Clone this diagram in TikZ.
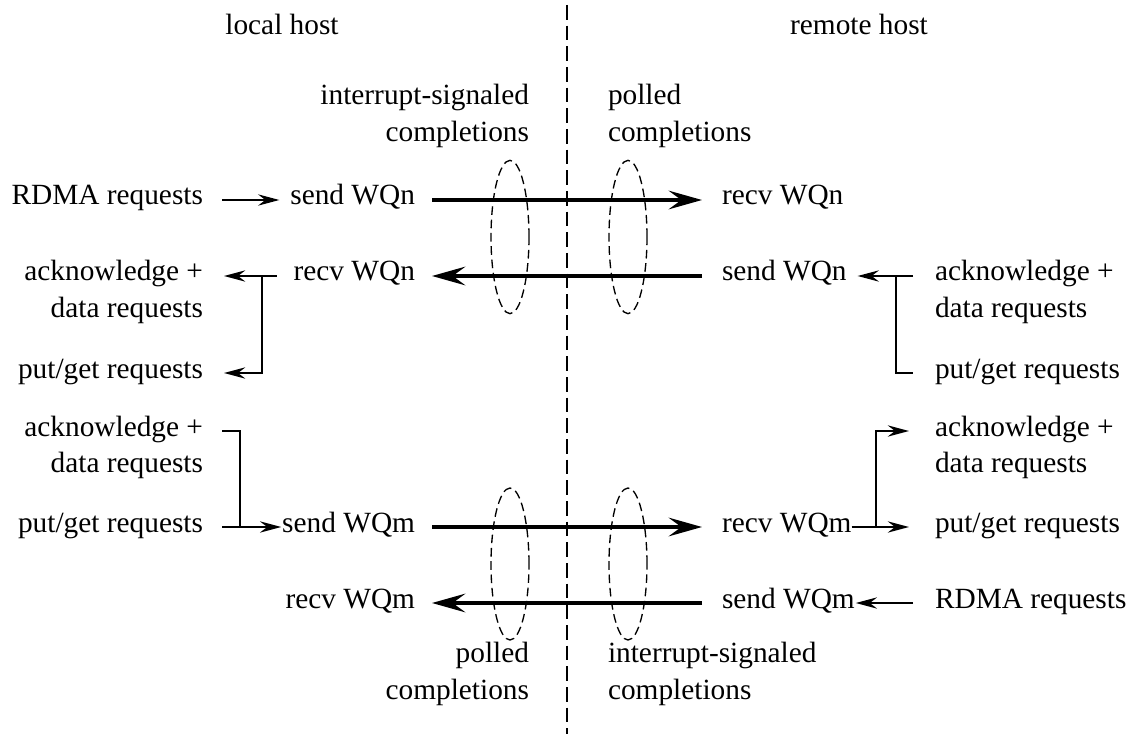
\documentclass[tikz,border=0pt]{standalone}
\usepackage{fontspec}
\setmainfont{Liberation Serif}
\usetikzlibrary{arrows.meta}
\begin{document}
\begin{tikzpicture}[x=0.75pt,y=-0.75pt,
  txt/.style={inner sep=0pt, outer sep=0pt,
    font=\fontsize{22}{26}\selectfont, text height=13.5pt, text depth=6pt},
  lefttxt/.style={txt, anchor=east},
  righttxt/.style={txt, anchor=west},
  link/.style={line width=1.2pt},
  arr/.style={link, -{Stealth[length=16pt,width=8.5pt,inset=5.5pt]}},
  bus/.style={line width=2.8pt, -{Stealth[length=25pt,width=14pt,inset=9.5pt]}},
  divider/.style={line width=1.1pt, dash pattern=on 11pt off 4.5pt},
  cq/.style={line width=1pt, dash pattern=on 6.5pt off 3.5pt}]
\useasboundingbox (0,0) rectangle (1135,734);

% host boundary
\coordinate (dtop) at (567,5);
\coordinate (dbot) at (567,734);
\draw[divider] (dtop) -- (dbot);

% headings
\node[txt] (local) at (282,30) {local host};
\node[txt] (remote) at (859,30) {remote host};

% completion labels, top
\node[lefttxt] (isigT1) at (529,100) {interrupt-signaled};
\node[lefttxt] (isigT2) at (529,137) {completions};
\node[righttxt] (polT1) at (608,100) {polled};
\node[righttxt] (polT2) at (608,137) {completions};

% completion labels, bottom
\node[lefttxt] (polB1) at (529,657) {polled};
\node[lefttxt] (polB2) at (529,694) {completions};
\node[righttxt] (isigB1) at (608,657) {interrupt-signaled};
\node[righttxt] (isigB2) at (608,694) {completions};

% local request column
\node[lefttxt] (rdmaL) at (203,200) {RDMA requests};
\node[lefttxt] (ackL)  at (203,276) {acknowledge +};
\node[lefttxt] (datL)  at (203,312) {data requests};
\node[lefttxt] (putL)  at (203,373) {put/get requests};
\node[lefttxt] (ackL2) at (203,431) {acknowledge +};
\node[lefttxt] (datL2) at (203,467) {data requests};
\node[lefttxt] (putL2) at (203,527) {put/get requests};

% local work queues
\node[lefttxt] (sendn) at (415,200) {send WQn};
\node[lefttxt] (recvn) at (415,276) {recv WQn};
\node[lefttxt] (sendm) at (415,527) {send WQm};
\node[lefttxt] (recvm) at (415,603) {recv WQm};

% remote work queues
\node[righttxt] (recvnR) at (722,200) {recv WQn};
\node[righttxt] (sendnR) at (722,276) {send WQn};
\node[righttxt] (recvmR) at (722,527) {recv WQm};
\node[righttxt] (sendmR) at (722,603) {send WQm};

% remote request column
\node[righttxt] (ackR)  at (935,276) {acknowledge +};
\node[righttxt] (datR)  at (935,312) {data requests};
\node[righttxt] (putR)  at (935,373) {put/get requests};
\node[righttxt] (ackR2) at (935,431) {acknowledge +};
\node[righttxt] (datR2) at (935,467) {data requests};
\node[righttxt] (putR2) at (935,527) {put/get requests};
\node[righttxt] (rdmaR) at (935,603) {RDMA requests};

% completion queue groupings
\draw[cq] (510,237) ellipse [x radius=14.25pt, y radius=57.5pt];
\draw[cq] (628,237) ellipse [x radius=14.25pt, y radius=57.5pt];
\draw[cq] (510,564) ellipse [x radius=14.25pt, y radius=57pt];
\draw[cq] (628,564) ellipse [x radius=14.25pt, y radius=57pt];

% wire traffic between the hosts
\draw[bus, shorten <=12.75pt, shorten >=15pt] (sendn.east) -- (recvnR.west);
\draw[bus, shorten <=15pt, shorten >=12.75pt] (sendnR.west) -- (recvn.east);
\draw[bus, shorten <=12.75pt, shorten >=15pt] (sendm.east) -- (recvmR.west);
\draw[bus, shorten <=15pt, shorten >=12.75pt] (sendmR.west) -- (recvm.east);

% local side
\coordinate (jL1) at (262,276);
\coordinate (jL2) at (240,527);
\draw[arr, shorten <=14.25pt, shorten >=8.25pt] (rdmaL.east) -- (sendn.west);
\draw[arr, shorten <=12.75pt, shorten >=15.75pt] (recvn.west) -- (ackL.east);
\draw[arr, shorten >=15.75pt] (jL1) |- (putL.east);
\draw[link, shorten <=14.25pt] (ackL2.east) -| (jL2);
\draw[arr, shorten <=14.25pt, shorten >=0.75pt] (putL2.east) -- (sendm.west);

% remote side
\coordinate (jR1) at (896,276);
\coordinate (jR2) at (876,527);
\draw[arr, shorten <=16.5pt, shorten >=8.25pt] (ackR.west) -- (sendnR.east);
\draw[link, shorten >=16.5pt] (jR1) |- (putR.west);
\draw[arr, shorten >=19.5pt] (recvmR.east) -- (putR2.west);
\draw[arr, shorten >=19.5pt] (jR2) |- (ackR2.west);
\draw[arr, shorten <=16.5pt, shorten >=0.75pt] (rdmaR.west) -- (sendmR.east);
\end{tikzpicture}
\end{document}
